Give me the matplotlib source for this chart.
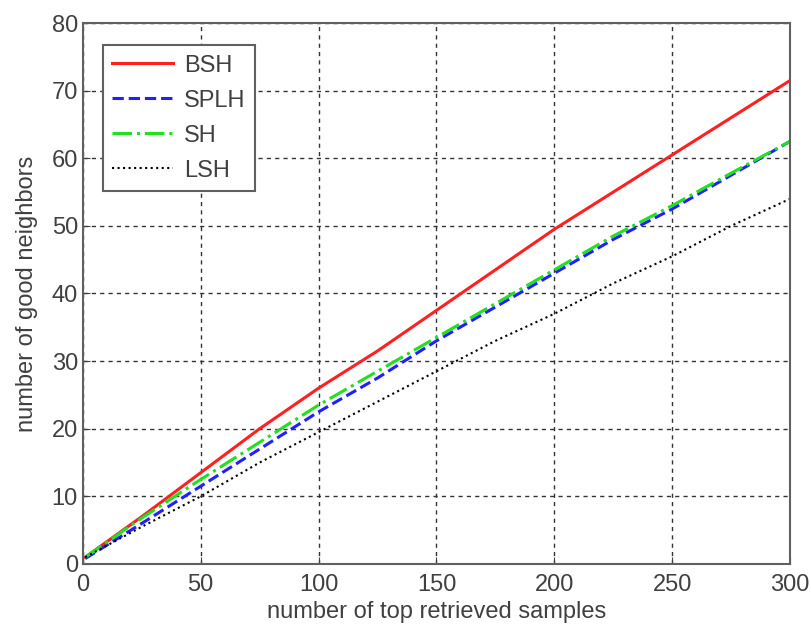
import numpy as np
import matplotlib.pyplot as plt

x = [1, 25, 50, 75, 100, 125, 150, 175, 200, 225, 250, 275, 300]
bsh = [1, 7, 13.5, 20, 26, 31.5, 37.5, 43.5, 49.5, 55, 60.5, 66, 71.5]
splh = [0.8, 6, 11.5, 17, 22.5, 27.5, 33, 38, 43, 48, 52.5, 57.5, 62.5]
sh = [1, 6.8, 12.5, 18, 23.5, 28.5, 33.5, 38.5, 43.5, 48.5, 53, 57.8, 62.5]
lsh = [1, 5.5, 10, 15, 19.5, 24, 28.5, 33, 37, 41.5, 45.5, 50, 54]

plt.rcParams['font.family'] = ['Liberation Sans', 'DejaVu Sans']

fig = plt.figure(figsize=(8.12, 6.27), dpi=100)
ax = fig.add_axes([0.102, 0.1005, 0.871, 0.8628])

ax.plot(x, bsh, color='#ff2020', lw=2.2, ls='-', label='BSH')
ax.plot(x, splh, color='#2020ff', lw=2.2, ls='--', label='SPLH')
ax.plot(x, sh, color='#20e020', lw=2.2, ls='-.', label='SH')
ax.plot(x, lsh, color='black', lw=1.5, ls=':', label='LSH')

ax.set_xlim(0, 300)
ax.set_ylim(0, 80)
ax.set_xticks(np.arange(0, 301, 50))
ax.set_yticks(np.arange(0, 81, 10))
ax.grid(True, color='#333333', ls=(0, (3, 3)), lw=1)
ax.tick_params(labelsize=17, colors='#404040', direction='in', length=5)
ax.tick_params(axis='x', pad=7)
for s in ax.spines.values():
    s.set_color('#606060')
    s.set_linewidth(1.5)

ax.set_xlabel('number of top retrieved samples', fontsize=17, color='#404040', labelpad=4)
ax.set_ylabel('number of good neighbors', fontsize=17, color='#404040', labelpad=10)

leg = ax.legend(loc='upper left', bbox_to_anchor=(0.028, 0.959), borderaxespad=0,
                fontsize=17, fancybox=False, framealpha=1, edgecolor='#606060',
                handlelength=2.6, handletextpad=0.45, labelspacing=0.55, borderpad=0.4)
leg.get_frame().set_linewidth(1.5)
for t in leg.get_texts():
    t.set_color('#404040')

fig.savefig('out.png', dpi=100)
